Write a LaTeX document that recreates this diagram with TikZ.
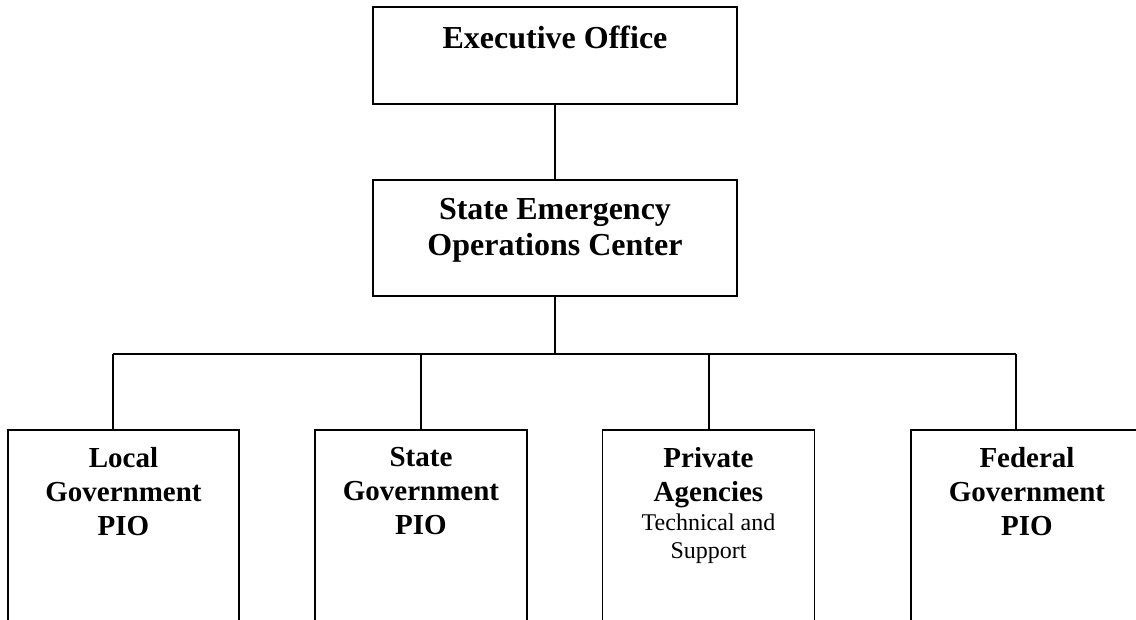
\documentclass[tikz,border=0pt]{standalone}
\usepackage{fontspec}
\setmainfont{Liberation Serif}
\usetikzlibrary{positioning}
\newcommand{\subtxt}{\mdseries\fontsize{24}{28}\selectfont}

\begin{document}
\begin{tikzpicture}[x=1pt, y=-1pt,
  box/.style={draw, line width=1.6pt, rectangle, inner sep=0pt},
  lbl/.style={inner sep=0pt, align=center, font=\fontsize{29}{34}\selectfont\bfseries},
  biglbl/.style={lbl, font=\fontsize{32}{36}\selectfont\bfseries},
  link/.style={line width=1.2pt}]
\path[use as bounding box, clip] (0,0) rectangle (1136,620);
% upper boxes
\node[box, minimum width=364pt, minimum height=97pt] (exec) at (555,55.5) {};
\node[box, minimum width=364pt, minimum height=116pt] (seoc) at (555,238) {};
\node[biglbl, below=20pt of exec.north] (execT) {Executive Office};
\node[biglbl, below=19pt of seoc.north] (seocT) {State Emergency\\Operations Center};
% lower boxes
\node[box, minimum width=231pt, minimum height=220pt] (loc) at (123.5,540) {};
\node[box, minimum width=212pt, minimum height=220pt] (sta) at (421,540) {};
\node[box, minimum width=212pt, minimum height=220pt] (pri) at (708.5,540) {};
\node[box, minimum width=232pt, minimum height=220pt] (fed) at (1027,540) {};
\node[lbl, below=18pt of loc.north] (locT) {Local\\Government\\PIO};
\node[lbl, below=18pt of sta.north] (staT) {State\\Government\\PIO};
\node[lbl, below=18pt of pri.north] (priT) {Private\\Agencies\\[-5pt]{\subtxt Technical and}\\[-6pt]{\subtxt Support}};
\node[lbl, below=18pt of fed.north] (fedT) {Federal\\Government\\PIO};
% connectors
\coordinate (bus) at (555,354);
\coordinate (dL) at (113,354);
\coordinate (dS) at (421,354);
\coordinate (dP) at (709,354);
\coordinate (dF) at (1016,354);
\draw[link] (exec.south) -- (seoc.north);
\draw[link] (seoc.south) -- (bus);
\draw[link] (dL) -- (dF);
\draw[link] (dL) -- (dL |- loc.north);
\draw[link] (dS) -- (dS |- sta.north);
\draw[link] (dP) -- (dP |- pri.north);
\draw[link] (dF) -- (dF |- fed.north);
\end{tikzpicture}
\end{document}
